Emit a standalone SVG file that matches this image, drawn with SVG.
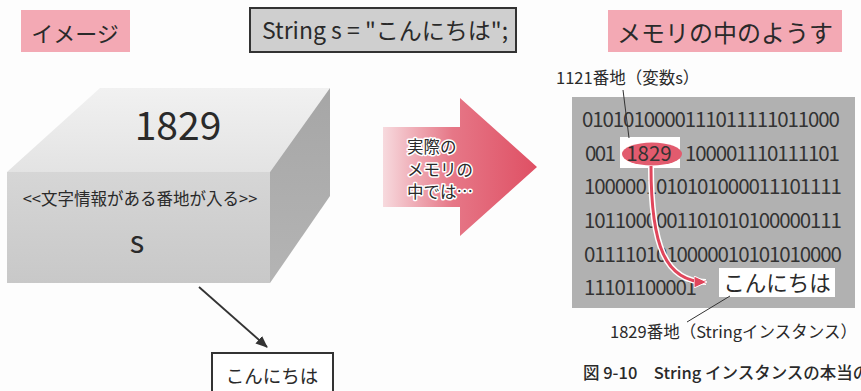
<svg xmlns="http://www.w3.org/2000/svg" width="861" height="391" viewBox="0 0 861 391">
  <style>
    text { font-family: "Noto Sans CJK JP", "Noto Sans", sans-serif; fill: #2a2a2a; }
    .tag { fill: #f3a9b4; }
    .bin { font-size: 20.5px; fill: #333; }
    .lead { stroke: #333; stroke-width: 1; fill: none; }
    .mid { text-anchor: middle; }
  </style>
  <defs>
    <linearGradient id="gTop" x1="0" y1="0" x2="0" y2="1">
      <stop offset="0" stop-color="#f1f1f1"/>
      <stop offset="1" stop-color="#e3e3e3"/>
    </linearGradient>
    <linearGradient id="gFront" x1="0" y1="0" x2="0" y2="1">
      <stop offset="0" stop-color="#d6d6d6"/>
      <stop offset="1" stop-color="#c8c8c8"/>
    </linearGradient>
    <linearGradient id="gSide" x1="0" y1="0" x2="0" y2="1">
      <stop offset="0" stop-color="#a6a6a6"/>
      <stop offset="1" stop-color="#b4b4b4"/>
    </linearGradient>
    <linearGradient id="gArrow" gradientUnits="userSpaceOnUse" x1="383" y1="0" x2="537" y2="0">
      <stop offset="0" stop-color="#f7dade"/>
      <stop offset="0.45" stop-color="#e67787"/>
      <stop offset="1" stop-color="#df5064"/>
    </linearGradient>
    <marker id="mDark" markerWidth="12" markerHeight="10" refX="11" refY="5" orient="auto" markerUnits="userSpaceOnUse">
      <path d="M0,0 L12,5 L0,10 Z" fill="#333"/>
    </marker>
    <marker id="mRed" markerWidth="13" markerHeight="12" refX="12" refY="6" orient="auto" markerUnits="userSpaceOnUse">
      <path d="M0,0 L13,6 L0,12 Z" fill="#e0465c" stroke="#fff" stroke-width="1"/>
    </marker>
  </defs>

  <rect width="861" height="391" fill="#fdfdfd"/>

  <!-- headings -->
  <g id="heading-image">
    <rect class="tag" x="21" y="10" width="109" height="42"/>
    <text x="75" y="42" class="mid" font-size="22">イメージ</text>
  </g>
  <g id="heading-code">
    <rect x="250" y="8" width="266" height="44" fill="#cfcfcf" stroke="#333" stroke-width="2"/>
    <text x="385" y="39" class="mid" font-size="23">String s = "こんにちは";</text>
  </g>
  <g id="heading-memory">
    <rect class="tag" x="608" y="10" width="234" height="42"/>
    <text x="725" y="42" class="mid" font-size="24">メモリの中のようす</text>
  </g>

  <!-- variable box -->
  <g id="var-box">
    <polygon points="100,88 330,88 270,172 7,172" fill="url(#gTop)"/>
    <polygon points="270,172 330,88 330,196 270,283" fill="url(#gSide)"/>
    <rect x="7" y="172" width="263" height="111" fill="url(#gFront)"/>
    <text x="178" y="140" class="mid" font-size="39">1829</text>
    <text x="140" y="205" class="mid" font-size="16.5">&lt;&lt;文字情報がある番地が入る&gt;&gt;</text>
    <text x="137" y="253" class="mid" font-size="31">s</text>
  </g>

  <g id="string-box">
    <rect x="212" y="353" width="121" height="50" fill="#fff" stroke="#333" stroke-width="2"/>
    <text x="272" y="383" class="mid" font-size="18.5">こんにちは</text>
  </g>

  <!-- transition arrow -->
  <g id="transition">
    <polygon points="383,127 460,127 460,98 537,167 460,236 460,207 383,207" fill="url(#gArrow)"/>
    <g font-size="16.5" stroke="#fff" stroke-width="3" paint-order="stroke" stroke-linejoin="round">
      <text x="407" y="153">実際の</text>
      <text x="407" y="175.5">メモリの</text>
      <text x="407" y="198">中では…</text>
    </g>
  </g>

  <!-- memory block -->
  <g id="memory">
    <rect x="572" y="97" width="283" height="211" fill="#b1b1b1"/>
    <text class="bin" x="582" y="127" textLength="258" lengthAdjust="spacing">0101010000111011111011000</text>
    <text class="bin" x="585" y="161" textLength="31" lengthAdjust="spacing">001</text>
    <text class="bin" x="685" y="161" textLength="155" lengthAdjust="spacing">100001110111101</text>
    <text class="bin" x="584" y="194" textLength="258" lengthAdjust="spacing">1000001010101000011101111</text>
    <text class="bin" x="584" y="228" textLength="258" lengthAdjust="spacing">1011000001101010100000111</text>
    <text class="bin" x="584" y="262" textLength="258" lengthAdjust="spacing">0111101010000010101010000</text>
    <text class="bin" x="584" y="295" textLength="113" lengthAdjust="spacing">11101100001</text>
  </g>

  <g id="addr-1829">
    <rect x="620" y="137" width="60" height="31" fill="#fff"/>
    <ellipse cx="652" cy="154" rx="30" ry="11.5" fill="#e25b6e"/>
    <text class="bin mid" x="649" y="161">1829</text>
  </g>

  <g id="instance">
    <rect x="719" y="268" width="116" height="29" fill="#fff"/>
    <text x="777" y="291" class="mid" font-size="21.5">こんにちは</text>
  </g>

  <!-- labels -->
  <g id="label-var">
    <text x="556" y="84" font-size="16.5">1121番地（変数s）</text>
  </g>
  <g id="label-inst">
    <text x="610" y="338" font-size="16.5">1829番地（Stringインスタンス）</text>
  </g>
  <g id="caption">
    <text x="583" y="379" font-size="16.5" font-weight="500" fill="#222">図 9-10　String インスタンスの本当の</text>
  </g>

  <!-- connectors -->
  <g id="connectors">
    <line x1="199" y1="287" x2="267" y2="347" stroke="#333" stroke-width="1.8" marker-end="url(#mDark)"/>
    <path d="M651,166 C651,245 665,282 706,282" fill="none" stroke="#fff" stroke-width="6"/>
    <path d="M651,166 C651,245 665,282 706,282" fill="none" stroke="#e0465c" stroke-width="3" marker-end="url(#mRed)"/>
    <line class="lead" x1="623" y1="90" x2="629" y2="138"/>
    <line class="lead" x1="730" y1="296" x2="687" y2="322"/>
  </g>
</svg>
